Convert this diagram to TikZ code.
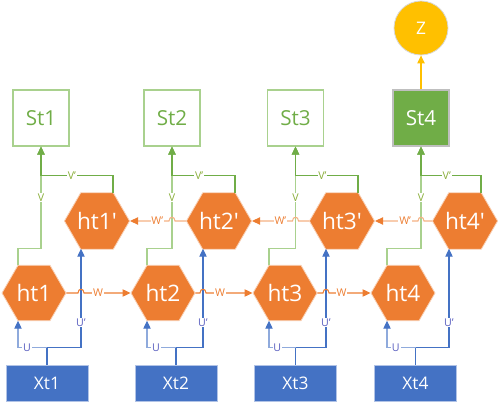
\documentclass[tikz,border=0pt]{standalone}
\usepackage{fontspec}
\setmainfont{Open Sans}
\usetikzlibrary{shapes.geometric,arrows.meta,calc}
\definecolor{orC}{HTML}{ED7D31}
\definecolor{orL}{HTML}{F4B183}
\definecolor{blC}{HTML}{4472C4}
\definecolor{blL}{HTML}{8FAADC}
\definecolor{grC}{HTML}{70AD47}
\definecolor{grL}{HTML}{A9D18E}
\definecolor{yeC}{HTML}{FFC000}
\definecolor{vlab}{HTML}{8AAE3A}
\definecolor{ulab}{HTML}{5A5FC0}
\tikzset{
  hexa/.style={regular polygon, regular polygon sides=6, minimum size=48pt, inner sep=0pt,
    fill=orC, draw=orL!60!white, line width=0.6pt, text=white, font=\fontsize{17}{18}\selectfont},
  sbox/.style={draw=grL, line width=0.8pt, minimum width=42pt, minimum height=42pt, inner sep=0pt,
    text=grC, font=\fontsize{15.5}{16}\selectfont},
  xbox/.style={draw=blL!70!white, fill=blC, line width=0.7pt, minimum width=61.5pt, minimum height=27pt,
    inner sep=0pt, text=white, font=\fontsize{13}{14}\selectfont},
  tip/.style={-{Triangle[length=6pt,width=5.5pt,color=#1]}},
  lbl/.style={fill=white, inner sep=0.6pt, font=\fontsize{8}{8}\selectfont},
  gA/.style={draw=grL, line width=0.8pt, tip=grC},
  gB/.style={draw=grC, line width=0.8pt, tip=grC},
  bA/.style={draw=blL, line width=0.8pt, tip=blC},
  bB/.style={draw=blC, line width=0.8pt, tip=blC},
  wA/.style={draw=orC, line width=0.8pt, tip=orC},
  wB/.style={draw=orL, line width=0.8pt, tip=orC},
}
\begin{document}
\begin{tikzpicture}[x=0.75pt,y=-0.75pt]
\useasboundingbox (0,0) rectangle (498,409);
% output nodes
\node[sbox] (s1) at (41,118) {St1};
\node[sbox] (s2) at (172,118) {St2};
\node[sbox] (s3) at (295.5,118) {St3};
\node[sbox, fill=grC, draw=gray!50, text=white] (s4) at (421,118) {St4};
\node[circle, fill=yeC, draw=gray!30, line width=0.6pt, minimum size=40.5pt, inner sep=0pt,
      text=white, font=\fontsize{13}{14}\selectfont] (z) at (421,28) {Z};
% backward hidden states
\node[hexa] (h1p) at (97,221) {ht1\textquotesingle};
\node[hexa] (h2p) at (219,221) {ht2\textquotesingle};
\node[hexa] (h3p) at (342,221) {ht3\textquotesingle};
\node[hexa] (h4p) at (465,221) {ht4\textquotesingle};
% forward hidden states
\node[hexa] (h1) at (34,293) {ht1};
\node[hexa] (h2) at (163,293) {ht2};
\node[hexa] (h3) at (285,293) {ht3};
\node[hexa] (h4) at (403,293) {ht4};
% inputs
\node[xbox] (x1) at (47,383) {Xt1};
\node[xbox] (x2) at (176,383) {Xt2};
\node[xbox] (x3) at (295.5,383) {Xt3};
\node[xbox] (x4) at (415.5,383) {Xt4};
% S4 -> Z
\draw[draw=yeC, line width=0.8pt, tip=yeC] (s4.north) -- (z.south);
% inputs to hidden states
\foreach \i in {1,2,3,4}{
  \draw[draw=blC, line width=0.8pt] (x\i.north) -- ++(0,-17) coordinate (j\i);
  \draw[bA] (j\i) -| node[lbl, text=ulab, pos=0.345]{U} ($(h\i.center)+(-16,27.7)$);
  \draw[bB] (j\i) -| node[lbl, text=ulab, pos=0.625]{U’} ($(h\i p.center)+(-16,27.7)$);
  \draw[gA] ($(h\i.center)+(-16,-27.7)$) -- ++(0,-17) -| node[lbl, text=vlab, pos=0.75]{V} (s\i.south);
  \draw[gB] ($(h\i p.center)+(16,-27.7)$) -- ++(0,-18) -| node[lbl, text=vlab, pos=0.285]{V’} (s\i.south);
}
% forward recurrence W (hop over the U' line)
\foreach \a/\b in {1/2,2/3,3/4}{
  \draw[wA] (h\a.east) -- ($(h\a.east -| h\a p.center)+(-19,0)$)
     .. controls +(0,-5) and +(0,-5) .. ($(h\a.east -| h\a p.center)+(-13,0)$)
     -- node[lbl, text=orC, pos=0.3]{W} (h\b.west);
}
% backward recurrence W' (hop over the V line)
\foreach \a/\b in {2/1,3/2,4/3}{
  \draw[wB] (h\a p.west) -- ($(h\a p.west -| s\a.south)+(3,0)$)
     .. controls +(0,-5) and +(0,-5) .. ($(h\a p.west -| s\a.south)+(-3,0)$)
     -- node[lbl, text=orC, pos=0.3]{W’} (h\b p.east);
}
\end{tikzpicture}
\end{document}
